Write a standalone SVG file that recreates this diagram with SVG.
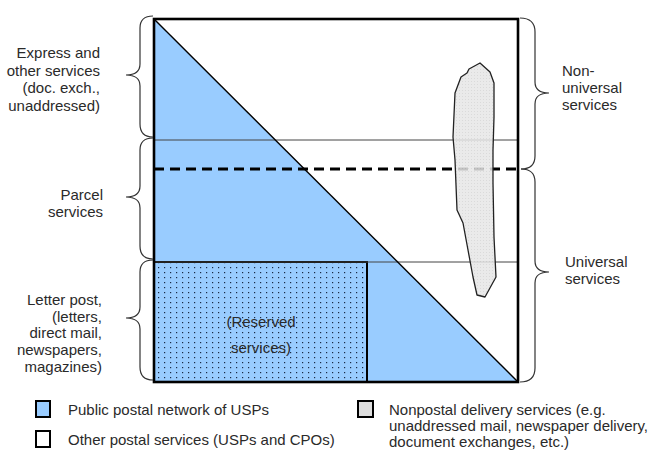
<svg xmlns="http://www.w3.org/2000/svg" width="649" height="451" viewBox="0 0 649 451">
  <defs>
    <pattern id="dots" width="6" height="5" patternUnits="userSpaceOnUse">
      <rect width="6" height="5" fill="#99CCFF"/>
      <rect x="2" y="2" width="1.2" height="1.2" fill="#1a2a44"/>
    </pattern>
    <pattern id="grain" width="3" height="3" patternUnits="userSpaceOnUse">
      <rect width="3" height="3" fill="#e6e6e6"/>
      <rect width="1" height="1" fill="#d4d4d4"/>
    </pattern>
  </defs>
  <style>
    .lbl { font-family: "Liberation Sans", Arial, sans-serif; font-size: 15px; fill: #2a2a2a; }
    .lft { text-anchor: end; }
    .brace { fill: none; stroke: #333; stroke-width: 1.2; }
    .thin { stroke: #444; stroke-width: 1; }
  </style>

  <rect width="649" height="451" fill="#fff"/>

  <!-- service area -->
  <g id="network">
    <polygon points="154,19 154,382 518,382" fill="#99CCFF"/>
  </g>
  <g id="reserved">
    <rect x="154" y="262" width="213" height="120" fill="url(#dots)" stroke="#000" stroke-width="2"/>
    <text class="lbl" x="261" y="327" text-anchor="middle" fill="#333">(Reserved</text>
    <text class="lbl" x="261" y="353" text-anchor="middle" fill="#333">services)</text>
  </g>
  <g id="dividers">
    <line class="thin" x1="154" y1="140" x2="518" y2="140"/>
    <line class="thin" x1="154" y1="262" x2="518" y2="262"/>
    <line x1="154" y1="169" x2="521" y2="169" stroke="#000" stroke-width="3" stroke-dasharray="10,6"/>
    <line x1="154" y1="19" x2="518" y2="382" stroke="#000" stroke-width="1.4"/>
  </g>
  <g id="nonpostal">
    <path d="M480,63 L490,72 L494,83 L494,117 L493,150 L493,183 L494,237 L496,277 L485,297 L477,295 L473,277 L468,250 L463,223 L457,210 L455,160 L453,137 L455,93 L461,77 L467,73 L469,69 Z"
          fill="url(#grain)" fill-opacity="0.85" stroke="#222" stroke-width="1.3" stroke-linejoin="round"/>
  </g>
  <g id="frame">
    <rect x="154" y="19" width="364" height="363" fill="none" stroke="#000" stroke-width="2.6"/>
  </g>

  <!-- braces -->
  <g id="connectors">
    <path class="brace" d="M153,16 Q140,16 140,28 L140,64 Q140,75 126,75 Q140,75 140,86 L140,124 Q140,137 153,137"/>
    <path class="brace" d="M153,138 Q140,138 140,150 L140,186 Q140,197 126,197 Q140,197 140,208 L140,246 Q140,259 153,259"/>
    <path class="brace" d="M153,260 Q140,260 140,272 L140,307 Q140,318 126,318 Q140,318 140,329 L140,367 Q140,380 153,380"/>
    <path class="brace" d="M520,18 Q535,18 535,32 L535,82 Q535,93 549,93 Q535,93 535,104 L535,156 Q535,169 521,169"/>
    <path class="brace" d="M521,169 Q535,169 535,182 L535,261 Q535,272 549,272 Q535,272 535,283 L535,368 Q535,382 520,382"/>
  </g>

  <!-- category labels -->
  <g id="label-express">
    <text class="lbl lft" x="100" y="58">Express and</text>
    <text class="lbl lft" x="100" y="76">other services</text>
    <text class="lbl lft" x="100" y="93">(doc. exch.,</text>
    <text class="lbl lft" x="100" y="111">unaddressed)</text>
  </g>
  <g id="label-parcel">
    <text class="lbl lft" x="103" y="200">Parcel</text>
    <text class="lbl lft" x="103" y="217">services</text>
  </g>
  <g id="label-letter">
    <text class="lbl lft" x="102" y="305">Letter post,</text>
    <text class="lbl lft" x="102" y="322">(letters,</text>
    <text class="lbl lft" x="102" y="338">direct mail,</text>
    <text class="lbl lft" x="102" y="355">newspapers,</text>
    <text class="lbl lft" x="102" y="372">magazines)</text>
  </g>
  <g id="label-nonuniversal">
    <text class="lbl" x="562" y="76">Non-</text>
    <text class="lbl" x="562" y="93">universal</text>
    <text class="lbl" x="562" y="110">services</text>
  </g>
  <g id="label-universal">
    <text class="lbl" x="565" y="267">Universal</text>
    <text class="lbl" x="565" y="284">services</text>
  </g>

  <!-- legend -->
  <g id="legend">
    <rect x="36" y="401" width="14" height="16" fill="#99CCFF" stroke="#000" stroke-width="2"/>
    <text class="lbl" x="68" y="415">Public postal network of USPs</text>
    <rect x="36" y="431" width="14" height="16" fill="#fff" stroke="#000" stroke-width="2"/>
    <text class="lbl" x="68" y="445">Other postal services (USPs and CPOs)</text>
    <rect x="358" y="401" width="15" height="16" fill="#dddddd" stroke="#000" stroke-width="2"/>
    <text class="lbl" x="389" y="415">Nonpostal delivery services (e.g.</text>
    <text class="lbl" x="389" y="431">unaddressed mail, newspaper delivery,</text>
    <text class="lbl" x="389" y="447">document exchanges, etc.)</text>
  </g>
</svg>
